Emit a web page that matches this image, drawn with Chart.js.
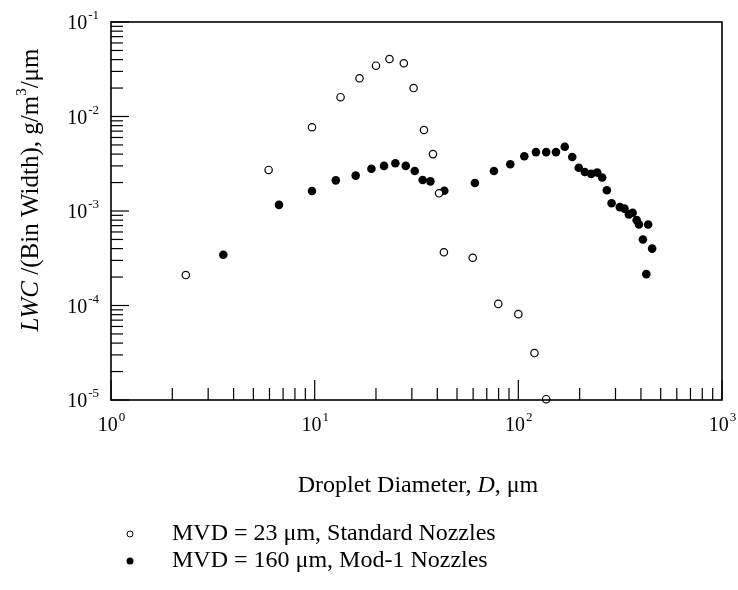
<!DOCTYPE html>
<html>
<head>
<meta charset="utf-8">
<script src="https://cdn.jsdelivr.net/npm/chart.js@4"></script>
<style>
  body { margin: 0; background: #fff; }
  #wrap { width: 738px; height: 590px; }
</style>
</head>
<body>
<div id="wrap"><canvas id="grafico" width="738" height="590"></canvas></div>
<script>
// MVD = 23 um, standard nozzles
const diamStd = [2.33, 5.94, 9.7, 13.4, 16.6, 20.0, 23.3, 27.4, 30.6, 34.4, 38.1, 40.8, 43.1, 59.7, 79.7, 100, 120, 137];
const lwcStd = [2.1e-4, 2.72e-3, 7.7e-3, 1.6e-2, 2.54e-2, 3.45e-2, 4.06e-2, 3.66e-2, 2.0e-2, 7.2e-3, 4.0e-3, 1.54e-3, 3.66e-4, 3.2e-4, 1.04e-4, 8.1e-5, 3.14e-5, 1.02e-5];
// MVD = 160 um, Mod-1 nozzles
const diamMod = [3.56, 6.68, 9.7, 12.7, 15.9, 19.0, 21.9, 24.9, 28.0, 31.0, 33.9, 37.0, 43.3, 61.2, 75.9, 91.3, 107, 122, 137, 153, 169, 184, 198, 212, 228, 244, 258, 272, 287, 315, 332, 349, 364, 381, 391, 409, 425, 434, 454];
const lwcMod = [3.45e-4, 1.16e-3, 1.63e-3, 2.11e-3, 2.37e-3, 2.8e-3, 3.0e-3, 3.2e-3, 3.0e-3, 2.65e-3, 2.13e-3, 2.06e-3, 1.64e-3, 1.98e-3, 2.65e-3, 3.12e-3, 3.79e-3, 4.2e-3, 4.2e-3, 4.2e-3, 4.78e-3, 3.73e-3, 2.87e-3, 2.59e-3, 2.47e-3, 2.55e-3, 2.26e-3, 1.66e-3, 1.21e-3, 1.1e-3, 1.06e-3, 9.2e-4, 9.6e-4, 8.0e-4, 7.2e-4, 5.0e-4, 2.15e-4, 7.2e-4, 4.0e-4];
// ticks (decades)
const xDecadas = [0, 1, 2, 3];
const yDecadas = [-5, -4, -3, -2, -1];
const leyendas = ['MVD = 23 \u03bcm, Standard Nozzles', 'MVD = 160 \u03bcm, Mod-1 Nozzles'];

const FUENTE = '"Liberation Serif", "Times New Roman", serif';

function puntos(xs, ys) {
    return xs.map((x, i) => ({ x: x, y: ys[i] }));
}

// texto "10^n" con exponente chico
function potencia(ctx, exp, x, y, align) {
    ctx.font = '20px ' + FUENTE;
    const base = '10';
    const sup = String(exp);
    const wb = ctx.measureText(base).width;
    ctx.font = '13px ' + FUENTE;
    const ws = ctx.measureText(sup).width;
    let x0 = x;
    if (align === 'center') x0 = x - (wb + ws) / 2;
    if (align === 'right') x0 = x - (wb + ws);
    ctx.textAlign = 'left';
    ctx.textBaseline = 'middle';
    ctx.font = '20px ' + FUENTE;
    ctx.fillText(base, x0, y);
    ctx.font = '13px ' + FUENTE;
    ctx.fillText(sup, x0 + wb + 1, y - 8);
}

// escribe partes con distintas fuentes, centradas en (cx, cy)
function textoMixto(ctx, partes, cx, cy) {
    let total = 0;
    partes.forEach(p => { ctx.font = p[0] + FUENTE; total += ctx.measureText(p[1]).width; });
    let x = cx - total / 2;
    ctx.textAlign = 'left';
    ctx.textBaseline = 'middle';
    partes.forEach(p => {
        ctx.font = p[0] + FUENTE;
        ctx.fillText(p[1], x, cy + p[2]);
        x += ctx.measureText(p[1]).width;
    });
}

const ejes = {
    id: 'ejes',
    afterDraw(chart) {
        const ctx = chart.ctx;
        const a = chart.chartArea;
        const sx = chart.scales.x, sy = chart.scales.y;
        ctx.save();
        ctx.strokeStyle = '#000';
        ctx.fillStyle = '#000';
        ctx.lineWidth = 1.6;
        ctx.strokeRect(a.left, a.top, a.right - a.left, a.bottom - a.top);
        ctx.lineWidth = 1.2;
        // ticks x
        xDecadas.forEach(d => {
            for (let m = 1; m <= 9; m++) {
                if (d === 3 && m > 1) break;
                const px = sx.getPixelForValue(m * Math.pow(10, d));
                const len = m === 1 ? 20 : 12;
                ctx.beginPath();
                ctx.moveTo(px, a.bottom);
                ctx.lineTo(px, a.bottom - len);
                ctx.stroke();
            }
        });
        // ticks y
        yDecadas.forEach(d => {
            for (let m = 1; m <= 9; m++) {
                if (d === -1 && m > 1) break;
                const py = sy.getPixelForValue(m * Math.pow(10, d));
                const len = m === 1 ? 18 : 12;
                ctx.beginPath();
                ctx.moveTo(a.left, py);
                ctx.lineTo(a.left + len, py);
                ctx.stroke();
            }
        });
        // etiquetas
        xDecadas.forEach(d => {
            potencia(ctx, d, sx.getPixelForValue(Math.pow(10, d)), 426, 'center');
        });
        yDecadas.forEach(d => {
            potencia(ctx, d, 98, sy.getPixelForValue(Math.pow(10, d)) + 2, 'right');
        });
        // titulo x
        textoMixto(ctx, [
            ['24px ', 'Droplet Diameter, ', 0],
            ['italic 24px ', 'D', 0],
            ['24px ', ', \u03bcm', 0]
        ], 418, 486);
        // titulo y (rotado)
        ctx.save();
        ctx.translate(31, 190);
        ctx.rotate(-Math.PI / 2);
        textoMixto(ctx, [
            ['italic 25px ', 'LWC', 0],
            ['25px ', ' /(Bin Width), g/m', 0],
            ['15px ', '3', -9],
            ['25px ', '/\u03bcm', 0]
        ], 0, 0);
        ctx.restore();
        // leyenda
        const filas = [534, 561];
        chart.data.datasets.forEach((ds, i) => {
            const y = filas[i];
            ctx.beginPath();
            ctx.arc(130, y, i === 0 ? 3 : 3.5, 0, Math.PI * 2);
            if (i === 0) { ctx.lineWidth = 1; ctx.stroke(); } else { ctx.fill(); }
            ctx.font = '24px ' + FUENTE;
            ctx.textAlign = 'left';
            ctx.textBaseline = 'middle';
            ctx.fillText(ds.label, 172, y);
        });
        ctx.restore();
    }
};

new Chart(document.getElementById('grafico'), {
    type: 'scatter',
    data: {
        datasets: [{
            label: leyendas[0],
            data: puntos(diamStd, lwcStd),
            pointRadius: 3.7,
            pointBorderWidth: 1.2,
            borderColor: '#000',
            backgroundColor: '#fff',
            clip: false
        }, {
            label: leyendas[1],
            data: puntos(diamMod, lwcMod),
            pointRadius: 4.3,
            pointBorderWidth: 0,
            borderColor: '#000',
            backgroundColor: '#000',
            clip: false
        }]
    },
    options: {
        responsive: false,
        animation: false,
        layout: { padding: { left: 111, top: 22, right: 16, bottom: 190 } },
        plugins: { legend: { display: false }, tooltip: { enabled: false } },
        scales: {
            x: { type: 'logarithmic', min: 1, max: 1000, display: false },
            y: { type: 'logarithmic', min: 1e-5, max: 1e-1, display: false }
        }
    },
    plugins: [ejes]
});
</script>
</body>
</html>
